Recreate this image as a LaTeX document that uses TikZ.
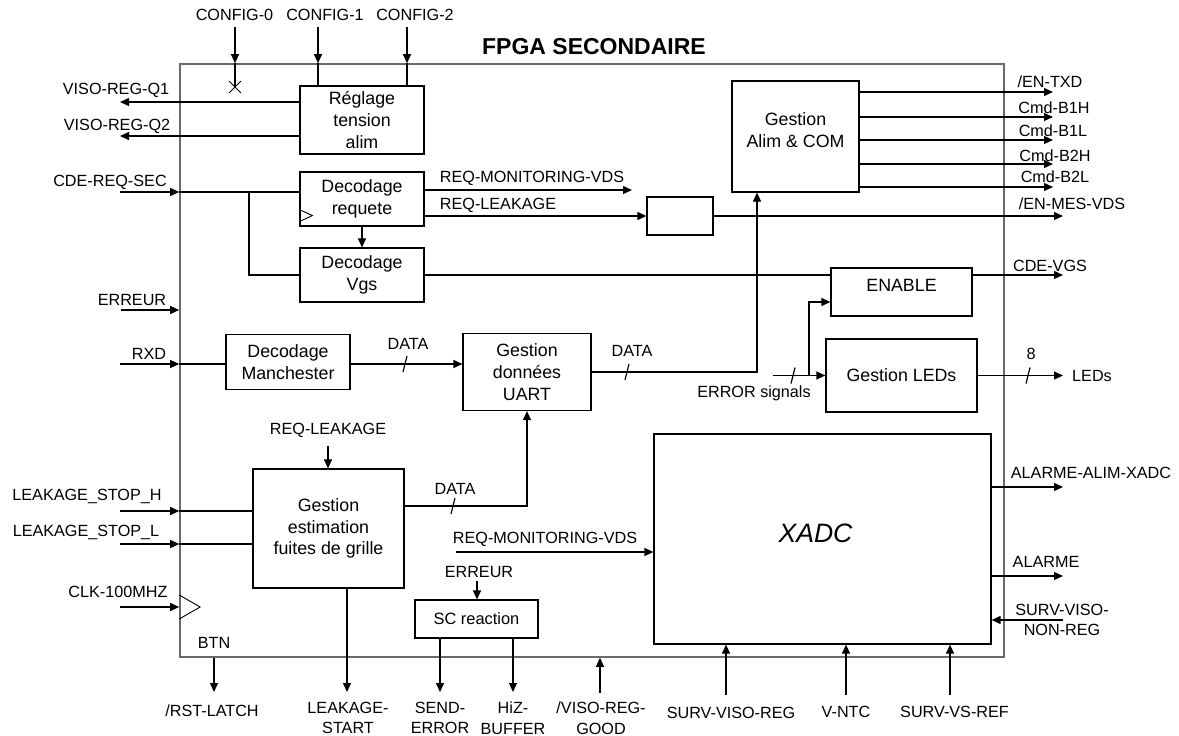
\documentclass[tikz,border=0pt]{standalone}
\usepackage{fontspec}
\setmainfont{Liberation Sans}
\usetikzlibrary{arrows.meta,positioning,calc,shapes.misc}
\definecolor{framegray}{RGB}{105,105,105}
\newcommand{\busmark}[1]{\draw ([shift={(2,-8)}]#1) -- ([shift={(-2,8)}]#1);}
\newcommand{\boxfont}{\fontsize{17.8}{21.8}\selectfont}

\begin{document}
\begin{tikzpicture}[
  x=1pt, y=-1pt,
  font=\fontsize{16.2}{20.5}\selectfont,
  line width=1.2pt,
  blk/.style={draw, align=center, inner sep=2pt, font=\boxfont},
  lbl/.style={inner sep=0pt, align=center},
  arr/.style={-{Triangle[length=9pt,width=8pt]}}
]
\useasboundingbox (0,0) rectangle (1179,736);

% FPGA frame
\node[draw=framegray, line width=1.6pt, minimum width=824pt, minimum height=593pt, inner sep=0pt] (fpga) at (592,360.5) {};
\node[lbl, font=\fontsize{23}{27}\selectfont\bfseries] (title) at (594,47) {FPGA SECONDAIRE};

% Blocks
\node[blk, minimum width=124pt, minimum height=68pt] (regl) at (362,120) {Réglage\\tension\\alim};
\node[blk, minimum width=124pt, minimum height=54pt] (dreq) at (362,199) {Decodage\\requete};
\node[blk, minimum width=124pt, minimum height=54pt] (dvgs) at (362,275) {Decodage\\Vgs};
\node[blk, minimum width=124pt, minimum height=55pt] (manch) at (288,362) {Decodage\\Manchester};
\node[blk, minimum width=128pt, minimum height=77pt] (uart) at (527,372) {Gestion\\données\\UART};
\node[blk, minimum width=151pt, minimum height=119pt] (leak) at (328.5,528.5) {Gestion\\estimation\\fuites de grille};
\node[blk, minimum width=123pt, minimum height=38pt, font=\fontsize{16.4}{20}\selectfont] (screa) at (476.5,619) {SC reaction};
\node[blk, minimum width=66pt, minimum height=38pt] (vdsbox) at (680,216) {};
\node[blk, minimum width=127pt, minimum height=111pt, label={[align=center, yshift=6pt, font=\boxfont]center:{Gestion\\Alim \& COM}}] (alim) at (795.5,136.5) {};
\node[blk, minimum width=141pt, minimum height=48pt, label={[yshift=7pt, font=\boxfont]center:ENABLE}] (enable) at (901.5,292) {};
\node[blk, minimum width=151pt, minimum height=73pt] (leds) at (901.5,375.5) {Gestion LEDs};
\node[blk, minimum width=337pt, minimum height=210pt, label={[xshift=-7pt, yshift=6pt, font=\fontsize{26.6}{30}\selectfont\itshape]center:XADC}] (xadc) at (822.5,539) {};

% CONFIG inputs
\node[lbl] (cfg0) at (234.5,15) {CONFIG-0};
\node[lbl] (cfg1) at (325,15) {CONFIG-1};
\node[lbl] (cfg2) at (415,15) {CONFIG-2};
\coordinate (cfg0top) at (235,27);
\coordinate (cfg1top) at (318,27);
\coordinate (cfg2top) at (407,27);
\node[draw, cross out, minimum size=11pt, inner sep=0pt, line width=0.8pt] (nc0) at (235,87) {};
\draw[arr] (cfg0top) -- (cfg0top |- fpga.north);
\draw (cfg0top |- fpga.north) -- (nc0.center);
\draw[arr] (cfg1top) -- (cfg1top |- fpga.north);
\draw (cfg1top |- fpga.north) -- (cfg1top |- regl.north);
\draw[arr] (cfg2top) -- (cfg2top |- fpga.north);
\draw (cfg2top |- fpga.north) -- (cfg2top |- regl.north);

% Reglage outputs
\coordinate (q1) at (120,102);
\coordinate (q2) at (120,136);
\draw[arr] (regl.west |- q1) -- (q1);
\draw[arr] (regl.west |- q2) -- (q2);
\node[lbl] (lq1) at (116,90) {VISO-REG-Q1};
\node[lbl] (lq2) at (117,126) {VISO-REG-Q2};

% Requete decoding
\coordinate (cdein) at (120,192);
\coordinate (split) at (249,192);
\node[lbl] (lcde) at (110,182) {CDE-REQ-SEC};
\draw[arr] (cdein) -- (cdein -| fpga.west);
\draw (cdein -| fpga.west) -- (cdein -| dreq.west);
\draw (split) |- (dvgs.west);
\draw[line width=0.9pt] ([yshift=5pt]dreq.south west) -- ++(13,-6) -- ++(-13,-6);
\draw[arr] (dreq.south) -- (dvgs.north);
\coordinate (monend) at (632,190);
\draw[arr] (dreq.east |- monend) -- (monend);
\node[lbl] (lmon) at (532,178) {REQ-MONITORING-VDS};
\draw[arr] (dreq.east |- vdsbox) -- (vdsbox.west);
\node[lbl] (lleak) at (498,205) {REQ-LEAKAGE};
\coordinate (enmes) at (1063,216);
\draw[arr] (vdsbox.east) -- (enmes);
\node[lbl] (lenmes) at (1072,204) {/EN-MES-VDS};

% Alim & COM outputs
\coordinate (entxd) at (1053,92);
\coordinate (b1h) at (1053,117);
\coordinate (b1l) at (1053,140);
\coordinate (b2h) at (1053,164);
\coordinate (b2l) at (1053,187);
\draw[arr] (alim.east |- entxd) -- (entxd);
\draw[arr] (alim.east |- b1h) -- (b1h);
\draw[arr] (alim.east |- b1l) -- (b1l);
\draw[arr] (alim.east |- b2h) -- (b2h);
\draw[arr] (alim.east |- b2l) -- (b2l);
\node[lbl] (lentxd) at (1050,82) {/EN-TXD};
\node[lbl] (lb1h) at (1054,108) {Cmd-B1H};
\node[lbl] (lb1l) at (1053,131) {Cmd-B1L};
\node[lbl] (lb2h) at (1055,156) {Cmd-B2H};
\node[lbl] (lb2l) at (1055,177) {Cmd-B2L};

% Vgs and ENABLE
\draw (dvgs.east) -- (dvgs.east -| enable.west);
\coordinate (cdevgs) at (1063,275);
\draw[arr] (enable.east |- cdevgs) -- (cdevgs);
\node[lbl] (lcdevgs) at (1050,266) {CDE-VGS};

% Manchester and UART
\coordinate (errl) at (121,310);
\draw[arr] (errl) -- (errl -| fpga.west);
\node[lbl] (lerrl) at (132,300) {ERREUR};
\coordinate (rxdin) at (120,364);
\draw[arr] (rxdin) -- (rxdin -| fpga.west);
\draw (rxdin -| fpga.west) -- (rxdin -| manch.west);
\node[lbl] (lrxd) at (149,354) {RXD};
\draw[arr] (manch.east |- rxdin) -- (uart.west |- rxdin);
\busmark{405,364}
\node[lbl] (ldata1) at (408,344) {DATA};
\coordinate (upj) at (757,372);
\draw[arr] (uart.east) -- (upj) -- (upj |- alim.south);
\busmark{627,372}
\node[lbl] (ldata2) at (632,351) {DATA};

% Error signals and LEDs
\coordinate (errin) at (773,375.5);
\coordinate (errsplit) at (809,375.5);
\draw[arr] (errin) -- (errin -| leds.west);
\draw[arr] (errsplit) |- ([yshift=-10pt]enable.west);
\busmark{793,375.5}
\node[lbl] (lerrsig) at (754,393) {ERROR signals};
\coordinate (ledsout) at (1063,375.5);
\draw[arr] (leds.east) -- (ledsout);
\busmark{1028,375.5}
\node[lbl] (lnb) at (1031,354) {8};
\node[lbl] (lleds) at (1092,376) {LEDs};

% Leakage estimation
\coordinate (lsh) at (120,511);
\coordinate (lsl) at (120,544);
\draw[arr] (lsh) -- (lsh -| fpga.west);
\draw (lsh -| fpga.west) -- (lsh -| leak.west);
\draw[arr] (lsl) -- (lsl -| fpga.west);
\draw (lsl -| fpga.west) -- (lsl -| leak.west);
\node[lbl] (llsh) at (87,496) {LEAKAGE\_STOP\_H};
\node[lbl] (llsl) at (86,532) {LEAKAGE\_STOP\_L};
\coordinate (rlk) at (328,446);
\draw[arr] (rlk) -- (rlk |- leak.north);
\node[lbl] (lrlk) at (328,430) {REQ-LEAKAGE};
\coordinate (leakj) at (527,506);
\draw[arr] (leak.east |- leakj) -- (leakj) -- (uart.south);
\busmark{453,506}
\node[lbl] (ldata3) at (455,489) {DATA};

% Clock
\coordinate (clkin) at (120,607);
\draw[arr] (clkin) -- (clkin -| fpga.west);
\draw[line width=0.9pt] ([yshift=12pt]clkin -| fpga.west) -- ++(21,12) -- ++(-21,12);
\node[lbl] (lclk) at (118,592) {CLK-100MHZ};

% Bottom outputs
\node[lbl] (lbtn) at (214,643) {BTN};
\coordinate (rst) at (214,692);
\draw[arr] (rst |- fpga.south) -- (rst);
\node[lbl] (lrst) at (212,711) {/RST-LATCH};
\coordinate (lstart) at (347,692);
\draw[arr] (lstart |- leak.south) -- (lstart);
\node[lbl] (llstart) at (348,718) {LEAKAGE-\\START};

% SC reaction
\coordinate (scerr) at (477,581);
\draw[arr] (scerr) -- (scerr |- screa.north);
\node[lbl] (lscerr) at (479,572) {ERREUR};
\coordinate (senderr) at (440,692);
\coordinate (hiz) at (513,692);
\draw[arr] (senderr |- screa.south) -- (senderr);
\draw[arr] (hiz |- screa.south) -- (hiz);
\node[lbl] (lsenderr) at (440,718) {SEND-\\ERROR};
\node[lbl] (lhiz) at (513,718) {HiZ-\\BUFFER};
\coordinate (vgood) at (600,693);
\draw[arr] (vgood) -- (vgood |- fpga.south);
\node[lbl] (lvgood) at (601,718) {/VISO-REG-\\GOOD};

% XADC
\coordinate (monin) at (456,552);
\draw[arr] (monin) -- (monin -| xadc.west);
\node[lbl] (lmonin) at (545,539) {REQ-MONITORING-VDS};
\coordinate (survreg) at (726,695);
\coordinate (vntc) at (846,695);
\coordinate (survvs) at (950,695);
\draw[arr] (survreg) -- (survreg |- xadc.south);
\draw[arr] (vntc) -- (vntc |- xadc.south);
\draw[arr] (survvs) -- (survvs |- xadc.south);
\node[lbl] (lsurvreg) at (731,713) {SURV-VISO-REG};
\node[lbl] (lvntc) at (846,712) {V-NTC};
\node[lbl] (lsurvvs) at (954.5,712) {SURV-VS-REF};
\coordinate (alalim) at (1063,487);
\coordinate (alarme) at (1063,576);
\coordinate (svnr) at (1063,620);
\draw[arr] (xadc.east |- alalim) -- (alalim);
\draw[arr] (xadc.east |- alarme) -- (alarme);
\draw[arr] (svnr) -- (svnr -| xadc.east);
\node[lbl] (lalalim) at (1091,473) {ALARME-ALIM-XADC};
\node[lbl] (lalarme) at (1046,562) {ALARME};
\node[lbl] (lsvnr) at (1062,620) {SURV-VISO-\\NON-REG};

\end{tikzpicture}
\end{document}
